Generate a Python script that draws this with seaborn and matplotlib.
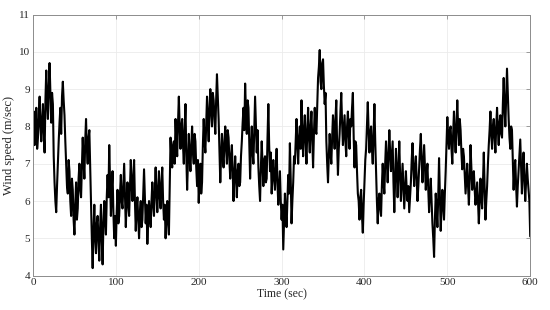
import numpy as np
import pandas as pd
import matplotlib
matplotlib.use("Agg")
import matplotlib.pyplot as plt
import seaborn as sns

time_sec = list(range(0, 601))
wind_speed = [
    8.0, 8.4, 7.5, 7.9, 8.5, 7.4, 7.7, 8.3, 8.8, 8.0,
    7.6, 8.2, 8.6, 7.8, 7.3, 8.7, 9.5, 8.6, 8.2, 9.1,
    9.7, 8.9, 8.1, 8.9, 8.6, 7.2, 6.5, 6.0, 5.7, 6.4,
    7.0, 7.6, 8.1, 8.5, 7.8, 8.8, 9.2, 8.7, 8.3, 7.6,
    7.0, 6.4, 6.2, 7.1, 6.8, 6.0, 5.6, 6.6, 6.3, 5.5,
    5.1, 5.9, 6.5, 5.5, 5.8, 6.6, 7.0, 6.3, 6.1, 6.9,
    7.7, 7.1, 6.6, 7.6, 8.2, 7.4, 7.0, 7.7, 7.9, 6.9,
    5.8, 5.0, 4.2, 5.2, 5.9, 5.0, 4.6, 5.4, 5.6, 4.9,
    4.4, 5.3, 5.9, 5.0, 4.3, 5.4, 6.0, 5.5, 5.1, 6.1,
    6.7, 6.1, 7.5, 6.6, 5.6, 6.3, 6.8, 5.7, 5.0, 5.6,
    4.8, 5.7, 6.3, 5.4, 5.6, 6.2, 6.7, 6.0, 5.8, 6.4,
    7.0, 6.1, 5.3, 6.0, 6.5, 5.9, 5.6, 6.4, 7.1, 6.5,
    6.0, 6.6, 7.1, 6.0, 5.2, 5.8, 6.1, 5.5, 5.0, 5.7,
    6.0, 5.3, 5.5, 6.2, 6.85, 6.1, 5.4, 5.9, 4.85, 5.5,
    6.0, 5.6, 5.3, 6.0, 6.5, 5.9, 5.6, 6.3, 6.9, 6.2,
    5.7, 6.3, 6.8, 6.1, 5.8, 6.5, 6.9, 6.0, 5.5, 5.9,
    5.0, 5.6, 6.0, 5.4, 5.1, 6.4, 7.7, 7.1, 6.9, 7.5,
    7.6, 7.0, 8.2, 7.6, 7.2, 8.1, 8.8, 8.0, 7.4, 8.0,
    8.2, 7.5, 7.0, 7.9, 8.6, 7.2, 6.3, 7.1, 7.8, 7.2,
    6.8, 7.5, 8.0, 7.3, 7.0, 7.8, 7.6, 6.9, 6.4, 7.1,
    5.95, 6.6, 7.0, 6.2, 6.5, 7.5, 8.2, 7.6, 7.3, 8.1,
    8.8, 8.1, 7.6, 8.5, 9.0, 8.4, 8.0, 8.9, 8.7, 8.2,
    7.8, 8.7, 9.4, 8.8, 8.2, 7.3, 6.5, 7.2, 7.8, 7.2,
    6.9, 7.6, 8.0, 7.4, 7.0, 7.9, 7.7, 7.1, 6.6, 7.2,
    7.5, 6.7, 6.0, 6.7, 7.2, 6.6, 6.1, 6.8, 7.0, 6.4,
    6.5, 7.2, 7.6, 8.1, 8.5, 7.9, 9.15, 8.4, 7.8, 8.7,
    8.5, 7.6, 6.6, 7.4, 8.0, 7.3, 7.0, 7.9, 8.8, 8.0,
    7.3, 7.9, 6.9, 6.4, 6.0, 6.9, 7.6, 7.0, 6.4, 7.1,
    7.2, 6.5, 6.6, 7.7, 8.6, 7.5, 6.8, 7.3, 6.2, 6.7,
    7.1, 6.6, 6.3, 6.9, 7.4, 6.5, 5.9, 6.4, 6.8, 6.0,
    5.5, 5.9, 4.7, 5.5, 6.2, 5.7, 5.3, 6.0, 6.7, 6.2,
    7.55, 6.6, 5.4, 6.0, 6.5, 7.2, 7.0, 7.6, 8.2, 7.5,
    7.0, 7.7, 8.0, 7.4, 8.7, 7.8, 7.2, 7.9, 8.3, 7.6,
    7.0, 7.9, 8.5, 7.7, 7.3, 8.0, 8.4, 7.6, 6.9, 7.8,
    8.5, 7.9, 7.8, 8.6, 9.3, 9.6, 10.05, 9.2, 9.0, 9.7,
    9.8, 9.1, 8.6, 8.9, 7.6, 7.0, 6.5, 7.2, 7.8, 7.3,
    7.0, 7.7, 8.3, 7.9, 7.4, 8.2, 8.7, 7.5, 6.7, 7.4,
    7.8, 8.4, 8.9, 8.1, 7.5, 7.9, 8.3, 7.6, 7.2, 8.0,
    8.4, 7.8, 7.4, 8.2, 8.0, 8.5, 8.9, 7.7, 6.9, 7.6,
    7.5, 6.8, 6.2, 6.0, 5.5, 6.1, 6.3, 5.6, 5.15, 5.9,
    6.5, 7.1, 7.4, 8.0, 8.65, 7.9, 7.3, 7.8, 8.0, 7.4,
    7.0, 7.8, 8.6, 7.6, 6.8, 6.0, 5.4, 6.0, 6.2, 5.8,
    5.6, 6.4, 7.0, 6.5, 6.2, 7.0, 7.6, 7.1, 6.5, 7.2,
    7.9, 7.3, 6.8, 7.2, 7.6, 6.5, 5.7, 6.6, 7.4, 6.9,
    6.1, 6.8, 7.6, 6.7, 6.0, 6.5, 7.0, 6.4, 5.8, 6.3,
    6.8, 6.3, 6.0, 6.4, 5.7, 6.1, 6.5, 7.1, 7.55, 6.9,
    6.4, 6.9, 7.2, 6.6, 6.0, 6.4, 6.9, 7.4, 7.8, 7.1,
    6.5, 7.0, 7.5, 6.9, 6.3, 6.7, 7.0, 6.3, 5.7, 6.2,
    6.6, 6.0, 5.4, 5.0, 4.5, 5.5, 6.2, 5.8, 5.3, 6.1,
    7.15, 6.2, 5.2, 5.8, 6.3, 5.9, 5.5, 6.2, 6.8, 7.5,
    8.25, 7.7, 7.4, 7.9, 8.0, 7.4, 7.0, 7.8, 8.4, 7.8,
    7.3, 8.0, 8.7, 8.0, 7.5, 8.2, 7.9, 7.3, 6.85, 7.4,
    7.2, 6.7, 6.2, 6.6, 7.0, 6.4, 5.9, 6.6, 7.5, 6.9,
    6.3, 6.6, 6.8, 6.3, 5.9, 6.2, 6.5, 6.0, 5.4, 6.0,
    6.6, 6.1, 5.8, 6.5, 7.3, 6.4, 5.5, 6.0, 6.4, 7.0,
    7.5, 7.9, 8.4, 7.8, 7.4, 8.0, 8.2, 7.7, 7.3, 8.0,
    8.5, 7.9, 7.5, 8.1, 8.3, 7.8, 7.7, 8.6, 9.3, 8.5,
    8.0, 8.8, 9.55, 8.9, 8.2, 7.7, 7.4, 8.0, 7.9, 7.1,
    6.3, 6.9, 7.1, 6.4, 5.85, 6.4, 6.8, 7.2, 7.65, 6.9,
    6.2, 6.8, 7.3, 6.6, 6.0, 6.5, 7.0, 6.6, 6.3, 6.0,
    5.05,
]
x_ticks = [0, 100, 200, 300, 400, 500, 600]
y_ticks = [4, 5, 6, 7, 8, 9, 10, 11]

df = pd.DataFrame({"t": time_sec, "v": wind_speed})

sns.set_style("white")
plt.rcParams['font.family'] = ['Liberation Serif', 'DejaVu Serif']

fig = plt.figure(figsize=(5.5, 3.1), dpi=100)
ax = fig.add_axes([0.06, 0.111, 0.904, 0.842])
sns.lineplot(data=df, x="t", y="v", ax=ax, color="black", linewidth=1.5)

ax.set_xlim(0, 600)
ax.set_ylim(4, 11)
ax.set_xticks(x_ticks)
ax.set_yticks(y_ticks)
ax.grid(True, color="#ebebeb", linewidth=0.6)
for s in ax.spines.values():
    s.set_color("#8c8c8c")
    s.set_linewidth(0.7)
ax.tick_params(direction="in", length=3, width=0.6, color="#8c8c8c",
               labelsize=8, pad=2, top=True, right=True)
ax.set_xlabel("Time (sec)", fontsize=8.5, labelpad=1)
ax.set_ylabel("Wind speed (m/sec)", fontsize=9, labelpad=3)

fig.savefig("out.png", dpi=100, facecolor="white")
